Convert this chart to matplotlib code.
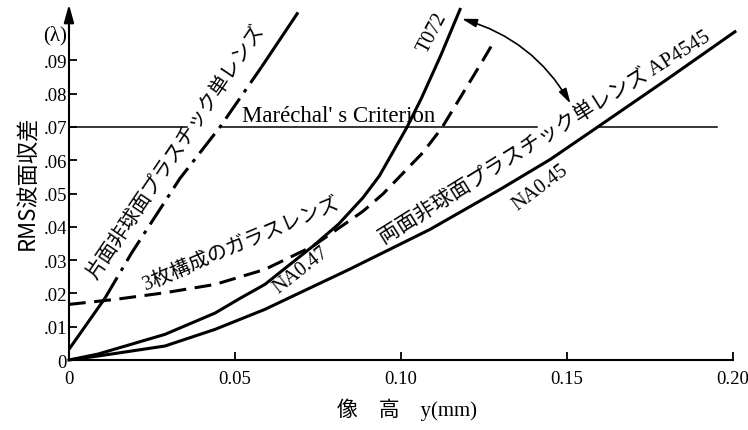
import matplotlib
matplotlib.use('Agg')
import matplotlib.pyplot as plt
from matplotlib.patches import FancyArrowPatch, ArrowStyle

plt.rcParams['font.family'] = ['Liberation Serif', 'Noto Sans CJK JP']

# curves: image height y (mm) vs RMS wavefront error (lambda)
# 片面非球面プラスチック単レンズ
single_x = [0, 0.0108, 0.0189, 0.0334, 0.0455, 0.058, 0.069]
single_y = [0.0032, 0.0185, 0.0322, 0.0545, 0.070, 0.088, 0.1044]

# T072, NA0.47
t072_x = [0, 0.0088, 0.0289, 0.044, 0.0515, 0.059, 0.0735, 0.0812, 0.0886, 0.0935,
          0.0976, 0.1017, 0.1062, 0.112, 0.1178]
t072_y = [0, 0.0018, 0.0077, 0.0141, 0.0185, 0.0227, 0.0342, 0.0408, 0.0488, 0.0553,
          0.0625, 0.0697, 0.0787, 0.0915, 0.1053]

# 3枚構成のガラスレンズ
glass_x = [0, 0.0139, 0.0289, 0.044, 0.059, 0.0735, 0.0886, 0.0946, 0.1066, 0.1123, 0.1248, 0.1278]
glass_y = [0.0167, 0.0182, 0.0202, 0.0227, 0.0272, 0.0342, 0.0447, 0.0499, 0.0623, 0.0697, 0.0902, 0.0953]

# 両面非球面プラスチック単レンズ AP4545, NA0.45
ap_x = [0, 0.0088, 0.0289, 0.044, 0.059, 0.0666, 0.0846, 0.1087, 0.1298, 0.1449, 0.1584, 0.18, 0.2006]
ap_y = [0, 0.0012, 0.0042, 0.0092, 0.0152, 0.0188, 0.0273, 0.0392, 0.0512, 0.0602, 0.0694, 0.0842, 0.0986]

marechal = 0.07
marechal_pieces = [(0, 0.0355), (0.0461, 0.141), (0.159, 0.1952)]

xticks = [0, 0.05, 0.10, 0.15, 0.20]
xtick_labels = ['0', '0.05', '0.10', '0.15', '0.20']
yticks = [0, 0.01, 0.02, 0.03, 0.04, 0.05, 0.06, 0.07, 0.08, 0.09]
ytick_labels = ['0', '.01', '.02', '.03', '.04', '.05', '.06', '.07', '.08', '.09']

jp = ['Noto Sans CJK JP']
mixed = ['Liberation Serif', 'Noto Sans CJK JP']

fig = plt.figure(figsize=(7.48, 4.31), dpi=100)
ax = fig.add_axes([0.0922, 0.1624, 0.9032, 0.825])
ax.set_xlim(0, 0.2035)
ax.set_ylim(0, 0.1068)

lw = 2.2
# one-sided aspheric lens: solid ends, dash-dot in the middle
ax.plot(single_x[:2], single_y[:2], color='k', lw=lw, solid_capstyle='butt')
ax.plot(single_x[1:6], single_y[1:6], color='k', lw=lw, linestyle=(0, (8, 2.5, 1.2, 2.5)))
ax.plot(single_x[5:], single_y[5:], color='k', lw=lw, solid_capstyle='butt')

ax.plot(t072_x, t072_y, color='k', lw=lw)
ax.plot(glass_x, glass_y, color='k', lw=lw, linestyle=(0, (5.5, 2.8)))
ax.plot(ap_x, ap_y, color='k', lw=lw, clip_on=False)

for x0, x1 in marechal_pieces:
    ax.plot([x0, x1], [marechal, marechal], color='k', lw=1.1)

# axes
for s in ['top', 'right']:
    ax.spines[s].set_visible(False)
ax.spines['bottom'].set_bounds(0, 0.2)
ax.spines['left'].set_bounds(0, 0.1)
ax.spines['left'].set_linewidth(1.5)
ax.spines['bottom'].set_linewidth(1.5)
ax.annotate('', xy=(0, 0.1068), xytext=(0, 0.0995),
            arrowprops=dict(arrowstyle=ArrowStyle('-|>', head_length=0.9, head_width=0.25),
                            color='k', lw=1.5, mutation_scale=12, shrinkA=0, shrinkB=0),
            annotation_clip=False)

ax.set_xticks(xticks, xtick_labels)
ax.set_yticks(yticks, ytick_labels)
ax.tick_params(direction='in', length=6, width=1.3, labelsize=13.5)
ax.tick_params(axis='x', pad=7)
ax.tick_params(axis='y', pad=1.5)
ax.text(-0.0006, 0.0978, '(λ)', ha='right', va='center', fontsize=15)

ax.set_ylabel('RMS波面収差', family=jp, fontsize=16, labelpad=3)
ax.set_xlabel('像\u3000高\u3000y(mm)', family=mixed, fontsize=15, labelpad=8)

# curve labels
ax.text(0.0521, 0.0719, "Maréchal' s Criterion", ha='left', va='baseline', fontsize=16.5)
ax.text(0.0324, 0.0626, '片面非球面プラスチック単レンズ', family=jp, fontsize=14.5,
        rotation=56, rotation_mode='anchor', ha='center', va='center')
ax.text(0.1096, 0.0986, 'T072', fontsize=14.5, rotation=62,
        rotation_mode='anchor', ha='center', va='center')
ax.text(0.0521, 0.0347, '3枚構成のガラスレンズ', family=mixed, fontsize=14.5,
        rotation=23, rotation_mode='anchor', ha='center', va='center')
ax.text(0.0699, 0.0272, 'NA0.47', fontsize=14.5, rotation=38,
        rotation_mode='anchor', ha='center', va='center')
ax.text(0.1434, 0.0671, '両面非球面プラスチック単レンズ AP4545', family=mixed, fontsize=15,
        rotation=32, rotation_mode='anchor', ha='center', va='center')
ax.text(0.1419, 0.052, 'NA0.45', fontsize=14.5, rotation=37,
        rotation_mode='anchor', ha='center', va='center')

arrow = FancyArrowPatch((0.1183, 0.1025), (0.1511, 0.077),
                        connectionstyle='arc3,rad=-0.2',
                        arrowstyle=ArrowStyle('<|-|>', head_length=0.9, head_width=0.25),
                        mutation_scale=10, lw=1.2, color='k', shrinkA=0, shrinkB=0)
ax.add_patch(arrow)

fig.savefig('out.png', dpi=100)
